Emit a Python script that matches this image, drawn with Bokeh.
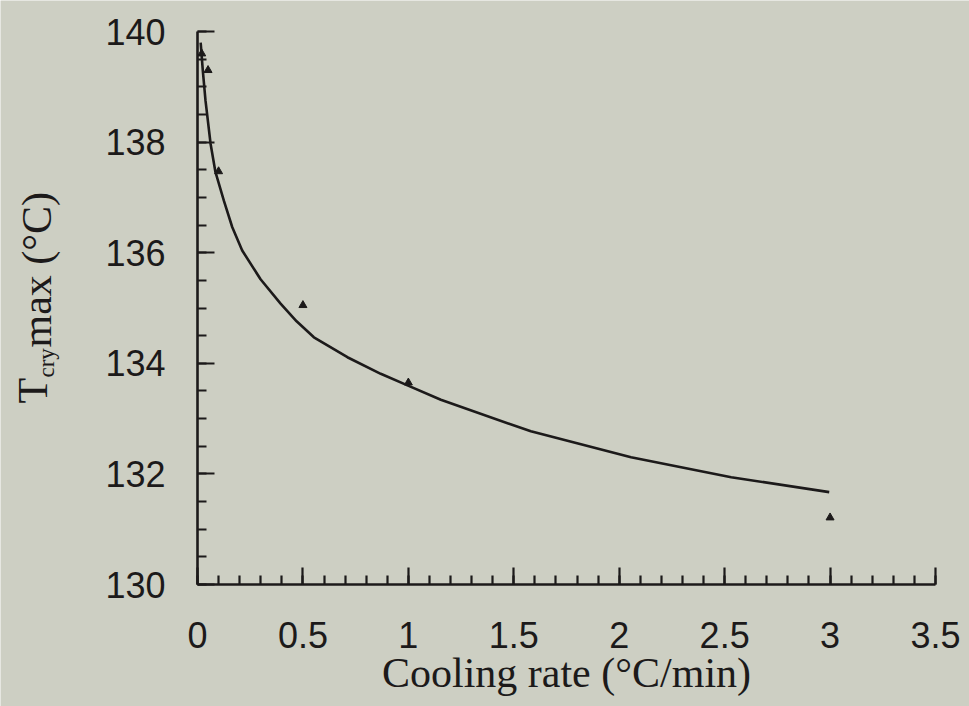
import numpy as np
from bokeh.plotting import figure
from bokeh.models import Range1d, FixedTicker, Label
from bokeh.embed import file_html
from bokeh.resources import INLINE

# Measured crystallization peak maxima
rate_pts = [0.02, 0.05, 0.1, 0.5, 1.0, 3.0]
tcry_pts = [139.6, 139.3, 137.47, 135.05, 133.65, 131.21]

# Fitted curve, sampled along its length
rate_fit = [0.015, 0.025, 0.038, 0.062, 0.085, 0.125, 0.165, 0.212, 0.299, 0.394,
            0.47, 0.552, 0.711, 0.869, 0.996, 1.154, 1.581, 2.056, 2.531, 2.996]
tcry_fit = [139.8, 139.3, 138.75, 137.97, 137.46, 136.94, 136.46, 136.04, 135.52, 135.08,
            134.76, 134.47, 134.11, 133.81, 133.60, 133.34, 132.77, 132.30, 131.94, 131.67]

x_ticks = [0, 0.5, 1, 1.5, 2, 2.5, 3, 3.5]
x_minor = [round(0.1 * i, 1) for i in range(36)]
y_ticks = [130, 132, 134, 136, 138, 140]
y_minor = [130 + 0.5 * i for i in range(21)]

BG = "#cdcfc3"
INK = "#1c1a1a"

W, H = 969, 706
# plot area in canvas pixels: x 0..3.5 -> 197..935, y 140..130 -> 31..584
X0, X1, Y0, Y1 = 197, 935, 31, 584
sx = (X1 - X0) / 3.5
sy = (Y1 - Y0) / 10.0


def dx(px):
    return (px - X0) / sx


def dy(py):
    return 140 - (py - Y0) / sy


# The frame spans the whole canvas; the axes sit at fixed data positions
p = figure(width=W, height=H, output_backend="svg", toolbar_location=None,
           x_range=Range1d(dx(0), dx(W)), y_range=Range1d(dy(H), dy(0)),
           min_border=0)
p.background_fill_color = BG
p.border_fill_color = BG
p.outline_line_color = None
p.grid.visible = False

xa, ya = p.xaxis[0], p.yaxis[0]
xa.fixed_location = 130
ya.fixed_location = 0
xa.bounds = (0, 3.5)
ya.bounds = (130, 140)

for ax in (xa, ya):
    ax.axis_line_color = INK
    ax.axis_line_width = 2.6
    ax.major_tick_line_color = INK
    ax.minor_tick_line_color = INK
    ax.major_tick_line_width = 2.2
    ax.minor_tick_line_width = 2.2
    ax.major_tick_in = 17
    ax.major_tick_out = 0
    ax.minor_tick_in = 9
    ax.minor_tick_out = 0
    ax.major_label_text_font = "Liberation Sans"
    ax.major_label_text_font_size = "36px"
    ax.major_label_text_color = INK

xa.ticker = FixedTicker(ticks=x_ticks, minor_ticks=x_minor)
ya.ticker = FixedTicker(ticks=y_ticks, minor_ticks=y_minor)
xa.major_label_overrides = {0: "0", 1: "1", 2: "2", 3: "3"}
xa.major_label_standoff = 37
ya.major_label_standoff = 32

p.line(rate_fit, tcry_fit, line_color=INK, line_width=2.6, line_join="round")
p.scatter(rate_pts, tcry_pts, marker="triangle", size=8, fill_color=INK,
          line_color=INK)

p.add_layout(Label(x=dx(566), y=dy(672), text="Cooling rate (°C/min)",
                   text_font="Liberation Serif", text_font_size="42px",
                   text_color=INK, text_align="center",
                   text_baseline="alphabetic"))

ang = np.pi / 2
p.add_layout(Label(x=dx(32), y=dy(403), text="T", angle=ang,
                   text_font="Liberation Serif", text_font_size="42px",
                   text_color=INK, text_align="left", text_baseline="alphabetic"))
p.add_layout(Label(x=dx(46), y=dy(377), text="cry", angle=ang,
                   text_font="Liberation Serif", text_font_size="23px",
                   text_color=INK, text_align="left", text_baseline="alphabetic"))
p.add_layout(Label(x=dx(36), y=dy(347), text="max (°C)", angle=ang,
                   text_font="Liberation Serif", text_font_size="42px",
                   text_color=INK, text_align="left", text_baseline="alphabetic"))

open("out.html", "w").write(file_html(p, INLINE))
